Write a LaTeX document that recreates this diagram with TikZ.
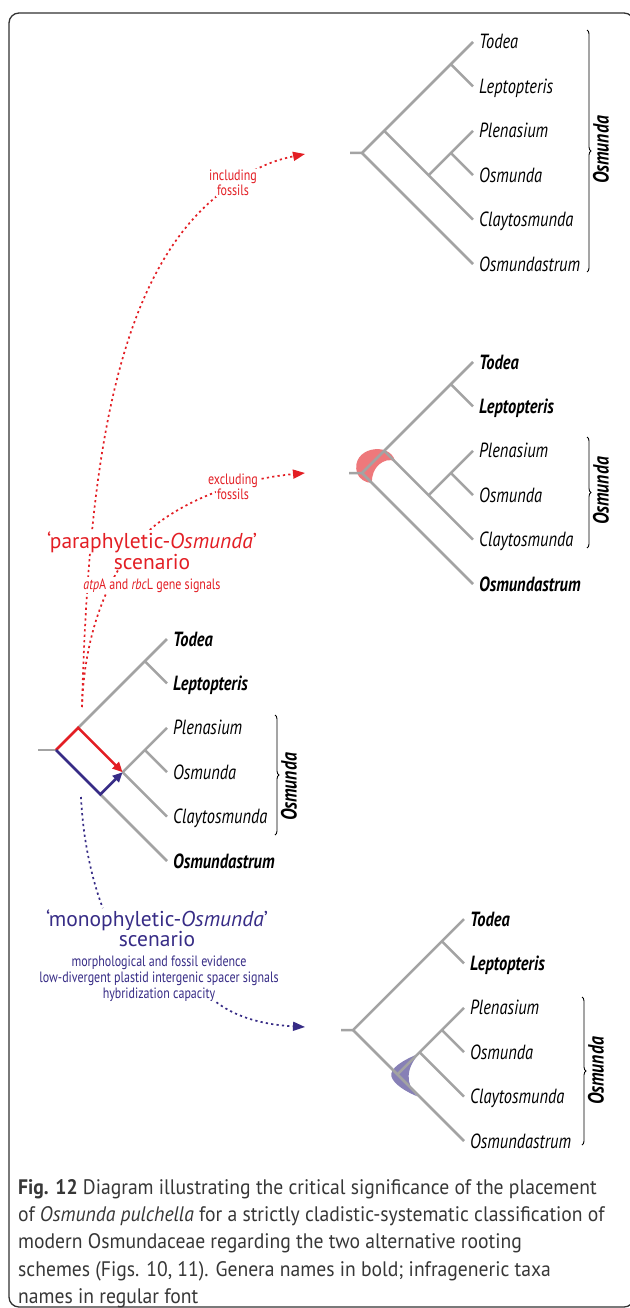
\documentclass[tikz,border=0pt]{standalone}
\usepackage{fontspec}
\setmainfont{PT Sans}
\newfontfamily\narrowfont{PT Sans}[FakeStretch=0.80]
\newfontfamily\capfont{PT Sans}[FakeStretch=0.935]
\usetikzlibrary{arrows.meta, decorations.pathreplacing}

\definecolor{branchgray}{RGB}{163,163,163}
\definecolor{parared}{RGB}{227,30,36}
\definecolor{monoblue}{RGB}{55,44,134}
\definecolor{captext}{RGB}{55,55,55}
\definecolor{framegray}{RGB}{50,50,50}

% six tips of an Osmundaceae tree, styles given per tip
\newcommand\osmtips[7]{%
  \foreach \tip/\dy/\kind/\txt in {T/-111/#2/Todea, L/-66.6/#3/Leptopteris,
      P/-22.2/#4/Plenasium, O/22.2/#5/Osmunda, C/66.6/#6/Claytosmunda,
      S/111/#7/Osmundastrum}{
    \coordinate (#1\tip) at (111,\dy);
    \node[\kind] (#1\tip l) at (#1\tip) {\txt};
  }%
}

\begin{document}
\begin{tikzpicture}[x=1pt, y=-1pt,
  branch/.style={draw=branchgray, line width=2.5pt},
  taxon/.style={anchor=base west, inner sep=0pt, xshift=6pt, yshift=-7pt,
    font=\narrowfont\fontsize{20.5}{23}\selectfont\itshape},
  genus/.style={taxon, font=\narrowfont\fontsize{20.5}{23}\selectfont\bfseries\itshape},
  clade/.style={rotate=90, inner sep=0pt,
    font=\narrowfont\fontsize{22}{24}\selectfont\bfseries\itshape},
  cladebrace/.style={draw=black, line width=0.9pt, decorate,
    decoration={brace, amplitude=4pt}},
  rootline/.style={line width=2.6pt, -{Triangle[length=10pt, width=9pt]}},
  dotline/.style={line width=1.7pt, dash pattern=on 2.2pt off 3.2pt,
    -{Triangle[length=12pt, width=9pt]}},
  note/.style={anchor=base, inner sep=1pt, fill=white,
    font=\narrowfont\fontsize{15}{16}\selectfont},
  scen/.style={anchor=base, inner sep=1pt, fill=white,
    font=\fontsize{21.5}{23}\selectfont},
  caption/.style={anchor=north west, align=left, inner sep=0pt, text=captext,
    font=\capfont\fontsize{21}{27.3}\selectfont}]

\fill[white] (0,0) rectangle (629,1308);
\useasboundingbox (0,0) rectangle (629,1308);
\draw[framegray, line width=1.3pt, rounded corners=10pt] (9,13) rectangle (634,1307);

% tree including fossils
\begin{scope}[shift={(362,153)}]
  \osmtips{inc}{taxon}{taxon}{taxon}{taxon}{taxon}{taxon}
  \coordinate (incR) at (0,0);
  \coordinate (incTLPOC) at (22.2,-22.2);
  \coordinate (incPOC) at (66.6,22.2);
  \coordinate (incPO) at (88.8,0);
  \coordinate (incTL) at (88.8,-88.8);
  \coordinate (incin) at (-12,0);
  \coordinate (incarr) at (-57,1);
\end{scope}
\draw[branch] (incin) -- (incR) -- (incT);
\draw[branch] (incR) -- (incS);
\draw[branch] (incTLPOC) -- (incC);
\draw[branch] (incPOC) -- (incP);
\draw[branch] (incPO) -- (incO);
\draw[branch] (incTL) -- (incL);
\draw[cladebrace] (587,30) -- (587,272);
\node[clade] (incosm) at (601,150) {Osmunda};

% tree excluding fossils
\begin{scope}[shift={(362,473)}]
  \fill[parared, opacity=0.6] (33,-12) .. controls (28,-32) and (-12,-26) .. (-5,0)
    .. controls (-3,6) and (4,10) .. (10,10) .. controls (9,-6) and (22,-16) .. cycle;
  \osmtips{exc}{genus}{genus}{taxon}{taxon}{taxon}{genus}
  \coordinate (excR) at (0,0);
  \coordinate (excTLPOC) at (22.2,-22.2);
  \coordinate (excPOC) at (66.6,22.2);
  \coordinate (excPO) at (88.8,0);
  \coordinate (excTL) at (88.8,-88.8);
  \coordinate (excin) at (-13,0);
  \coordinate (excarr) at (-57,0);
\end{scope}
\draw[branch] (excin) -- (excR) -- (excT);
\draw[branch] (excR) -- (excS);
\draw[branch] (excTLPOC) -- (excC);
\draw[branch] (excPOC) -- (excP);
\draw[branch] (excPO) -- (excO);
\draw[branch] (excTL) -- (excL);
\draw[cladebrace] (587,437) -- (587,548);
\node[clade] (excosm) at (601,491) {Osmunda};

% unrooted tree with both rootings
\begin{scope}[shift={(56,750)}]
  \osmtips{alt}{genus}{genus}{taxon}{taxon}{taxon}{genus}
  \coordinate (altR) at (0,0);
  \coordinate (altTLPOC) at (22.2,-22.2);
  \coordinate (altPOC) at (66.6,22.2);
  \coordinate (altPO) at (88.8,0);
  \coordinate (altTL) at (88.8,-88.8);
  \coordinate (altmid) at (44.4,44.4);
  \coordinate (altin) at (-18,0);
  \coordinate (altup) at (26,-43);
  \coordinate (altdown) at (25,47);
\end{scope}
\draw[branch] (altin) -- (altR);
\draw[branch] (altTLPOC) -- (altT);
\draw[branch] (altmid) -- (altS);
\draw[branch] (altPOC) -- (altC);
\draw[branch] (altPOC) -- (altP);
\draw[branch] (altPO) -- (altO);
\draw[branch] (altTL) -- (altL);
\draw[rootline, parared] (altR) -- (altTLPOC) -- (altPOC);
\draw[rootline, monoblue] (altR) -- (altmid) -- (altPOC);
\draw[cladebrace] (275,715) -- (275,835);
\node[clade] (altosm) at (289,787) {Osmunda};

% monophyletic tree
\begin{scope}[shift={(353,1030)}]
  \fill[monoblue, opacity=0.6, shift={(44.4,44.4)}] (22,-21) .. controls (5,-14) and (-8,-6) .. (-6,2)
    .. controls (-4,10) and (10,18) .. (20,22) .. controls (8,10) and (8,-6) .. cycle;
  \osmtips{mono}{genus}{genus}{taxon}{taxon}{taxon}{taxon}
  \coordinate (monoR) at (0,0);
  \coordinate (monoPOCS) at (44.4,44.4);
  \coordinate (monoPOC) at (66.6,22.2);
  \coordinate (monoPO) at (88.8,0);
  \coordinate (monoTL) at (88.8,-88.8);
  \coordinate (monoin) at (-12,0);
  \coordinate (monoarr) at (-48,-3);
\end{scope}
\draw[branch] (monoin) -- (monoR) -- (monoT);
\draw[branch] (monoR) -- (monoS);
\draw[branch] (monoPOCS) -- (monoP);
\draw[branch] (monoPOC) -- (monoC);
\draw[branch] (monoPO) -- (monoO);
\draw[branch] (monoTL) -- (monoL);
\draw[cladebrace] (582,997) -- (582,1145);
\node[clade] (monoosm) at (596,1071) {Osmunda};

% red scenario connectors
\draw[dotline, parared] (altup) .. controls (88,480) and (112,290) .. (210,202)
  .. controls (235,180) and (260,163) .. (incarr);
\draw[dotline, parared] (altup) .. controls (84,640) and (105,570) .. (153,527)
  .. controls (180,505) and (230,480) .. (excarr);

\node[note, text=parared] (incl1) at (233,181) {including};
\node[note, text=parared] (incl2) at (233,196) {fossils};
\node[note, text=parared] (excl1) at (233,484) {excluding};
\node[note, text=parared] (excl2) at (233,499) {fossils};
\node[scen, text=parared] (para1) at (152,548) {‘paraphyletic-\textit{Osmunda}’};
\node[scen, text=parared] (para2) at (152,569) {scenario};
\node[note, text=parared] (para3) at (152,589) {\textit{atp}A and \textit{rbc}L gene signals};

\node[scen, text=monoblue] (mono1) at (157,926) {‘monophyletic-\textit{Osmunda}’};
\node[scen, text=monoblue] (mono2) at (157,946) {scenario};
\node[note, text=monoblue] (mono3) at (159,966) {morphological and fossil evidence};
\node[note, text=monoblue] (mono4) at (159,982) {low-divergent plastid intergenic spacer signals};
\node[note, text=monoblue] (mono5) at (159,998) {hybridization capacity};

% blue scenario connectors
\draw[dotline, monoblue, -] (altdown) .. controls (83,840) and (92,880) .. ([xshift=58pt]mono1.north west);
\draw[dotline, monoblue] (mono5.south east) .. controls (240,1020) and (270,1025) .. (monoarr);

\node[caption] (cap) at (18,1179) {\textbf{Fig. 12} Diagram illustrating the critical significance of the placement\\
  of \textit{Osmunda pulchella} for a strictly cladistic-systematic classification of\\
  modern Osmundaceae regarding the two alternative rooting\\
  schemes (Figs. 10, 11). Genera names in bold; infrageneric taxa\\
  names in regular font};
\end{tikzpicture}
\end{document}
